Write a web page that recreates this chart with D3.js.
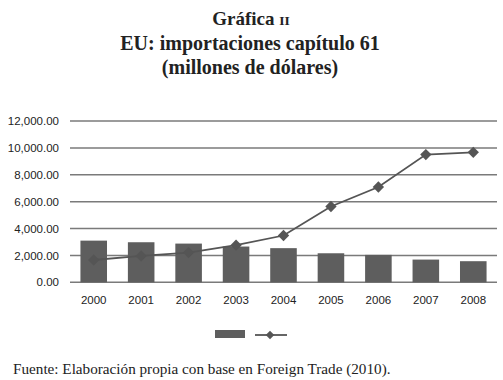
<!DOCTYPE html>
<html>
<head>
<meta charset="utf-8">
<script src="https://cdn.jsdelivr.net/npm/d3@7"></script>
<style>
  body { margin: 0; background: #fff; }
  svg { display: block; }
</style>
</head>
<body>
<div id="chart"></div>
<script>
// data
const years = ["2000", "2001", "2002", "2003", "2004", "2005", "2006", "2007", "2008"];
const barValues = [3100, 2980, 2880, 2660, 2540, 2160, 2040, 1690, 1570];
const lineValues = [1660, 1960, 2210, 2760, 3480, 5640, 7090, 9500, 9670];
const yTicks = [0, 2000, 4000, 6000, 8000, 10000, 12000];

const width = 503, height = 380;
const margin = { left: 70, right: 6, top: 121, bottom: 98 };

const svg = d3.select("#chart").append("svg")
    .attr("width", width)
    .attr("height", height);

// titles
const title = svg.append("g")
    .attr("font-family", "'Liberation Serif', 'DejaVu Serif', serif")
    .attr("font-weight", "bold")
    .attr("fill", "#222")
    .attr("text-anchor", "middle");

let t1 = title.append("text").attr("x", 251).attr("y", 25).attr("font-size", 19);
t1.append("tspan").text("Gráfica ");
t1.append("tspan").attr("font-size", 13.5).text("II");
title.append("text").attr("x", 250).attr("y", 50).attr("font-size", 20)
    .text("EU: importaciones capítulo 61");
title.append("text").attr("x", 250).attr("y", 74).attr("font-size", 20)
    .text("(millones de dólares)");

let x = d3.scaleBand()
    .domain(years)
    .range([margin.left, width - margin.right])
    .paddingInner(0.44)
    .paddingOuter(0.22);

let y = d3.scaleLinear()
    .domain([0, 12000])
    .range([height - margin.bottom + 0.3, margin.top]);

// gridlines
svg.append("g")
    .selectAll("line")
    .data(yTicks)
    .enter().append("line")
    .attr("x1", margin.left)
    .attr("x2", width - margin.right)
    .attr("y1", d => y(d))
    .attr("y2", d => y(d))
    .attr("stroke", "#7a7a7a")
    .attr("stroke-width", 1.5);

// y axis labels
let yAxis = svg.append("g")
    .attr("transform", "translate(" + (margin.left - 4) + ",0)")
    .call(d3.axisLeft(y).tickValues(yTicks).tickSize(0).tickPadding(7)
        .tickFormat(d3.format(",.2f")));
yAxis.select(".domain").remove();
yAxis.selectAll("text")
    .attr("font-family", "'Liberation Sans', 'DejaVu Sans', sans-serif")
    .attr("font-size", 11.5)
    .attr("fill", "#222");

// x axis labels
let xAxis = svg.append("g")
    .attr("transform", "translate(0," + y(0) + ")")
    .call(d3.axisBottom(x).tickSize(0).tickPadding(14));
xAxis.select(".domain").remove();
xAxis.selectAll("text")
    .attr("font-family", "'Liberation Sans', 'DejaVu Sans', sans-serif")
    .attr("font-size", 11.5)
    .attr("fill", "#222");

// bars
svg.selectAll(".bar")
    .data(barValues)
    .enter().append("rect")
    .attr("class", "bar")
    .attr("x", (d, i) => x(years[i]))
    .attr("width", x.bandwidth())
    .attr("y", d => y(d))
    .attr("height", d => y(0) - y(d))
    .attr("fill", "#5e5e5e");

// line
let cx = (d, i) => x(years[i]) + x.bandwidth() / 2;
let line = d3.line()
    .x(cx)
    .y(d => y(d));

svg.append("path")
    .datum(lineValues)
    .attr("d", line)
    .attr("fill", "none")
    .attr("stroke", "#555")
    .attr("stroke-width", 1.8);

// square turned 45 degrees, like the Excel marker
let diamond = d3.symbol().type(d3.symbolSquare).size(64);
svg.selectAll(".marker")
    .data(lineValues)
    .enter().append("path")
    .attr("class", "marker")
    .attr("d", diamond)
    .attr("transform", (d, i) => "translate(" + cx(d, i) + "," + y(d) + ") rotate(45)")
    .attr("fill", "#555");

// legend
let legend = svg.append("g");
legend.append("rect")
    .attr("x", 215).attr("y", 330)
    .attr("width", 30).attr("height", 8)
    .attr("fill", "#5e5e5e");
legend.append("line")
    .attr("x1", 255).attr("x2", 287)
    .attr("y1", 335).attr("y2", 335)
    .attr("stroke", "#555").attr("stroke-width", 1.8);
legend.append("path")
    .attr("d", d3.symbol().type(d3.symbolSquare).size(36))
    .attr("transform", "translate(270,335) rotate(45)")
    .attr("fill", "#555");

// source note
svg.append("text")
    .attr("x", 13).attr("y", 374)
    .attr("font-family", "'Liberation Serif', 'DejaVu Serif', serif")
    .attr("font-size", 15.2)
    .attr("fill", "#222")
    .text("Fuente: Elaboración propia con base en Foreign Trade (2010).");
</script>
</body>
</html>
